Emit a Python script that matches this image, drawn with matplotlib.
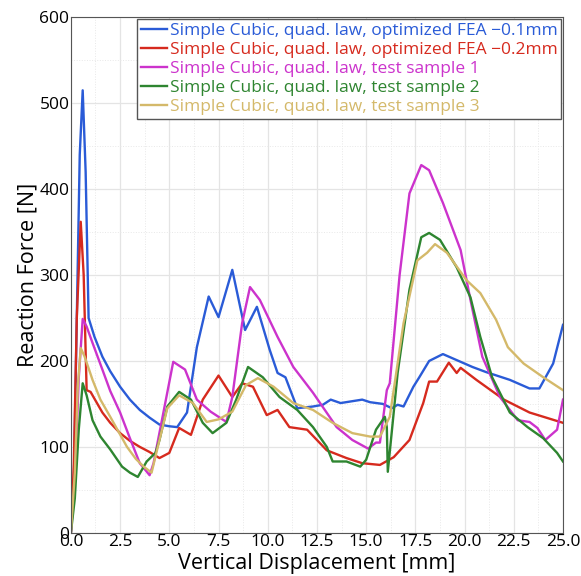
import matplotlib
matplotlib.use("Agg")
import matplotlib.pyplot as plt
from matplotlib.ticker import MultipleLocator

plt.rcParams['font.family'] = ['Open Sans', 'DejaVu Sans']

# displacement [mm] / reaction force [N]
fea1_x = [0.0, 0.15, 0.3, 0.45, 0.6, 0.75, 0.9, 1.2, 1.6, 2.0, 2.5, 3.0, 3.5, 4.0, 4.5, 5.0, 5.4, 5.9,
          6.4, 7.0, 7.5, 8.2, 8.85, 9.45, 10.1, 10.5, 10.9, 11.5, 12.3, 12.8, 13.2, 13.7, 14.8, 15.2,
          15.85, 16.3, 16.6, 16.9, 17.4, 17.7, 18.2, 18.9, 19.6, 20.4, 21.1, 22.3, 23.3, 23.8, 24.5, 25.0]
fea1_y = [0, 60, 250, 440, 515, 420, 250, 228, 205, 188, 170, 155, 143, 134, 126, 124, 123, 140,
          216, 275, 251, 306, 236, 263, 213, 186, 181, 145, 147, 149, 155, 151, 155, 152,
          150, 145, 149, 147, 170, 181, 200, 208, 201, 193, 187, 178, 168, 168, 197, 242]

fea2_x = [0.0, 0.15, 0.3, 0.5, 0.65, 0.8, 1.0, 1.6, 2.0, 2.5, 3.0, 3.5, 4.0, 4.5, 5.0, 5.5, 6.1, 6.7,
          7.5, 8.2, 8.7, 9.25, 9.95, 10.5, 11.1, 12.0, 13.0, 14.0, 14.8, 15.7, 16.4, 17.2, 17.9,
          18.2, 18.6, 19.2, 19.6, 19.8, 20.6, 22.0, 23.3, 25.0]
fea2_y = [0, 80, 250, 362, 300, 166, 164, 140, 128, 116, 107, 100, 94, 87, 93, 122, 114, 155,
          183, 158, 174, 170, 137, 143, 123, 120, 96, 87, 81, 79, 88, 108, 151,
          176, 176, 198, 186, 192, 178, 155, 140, 128]

s1_x = [0.0, 0.2, 0.4, 0.6, 0.8, 1.1, 1.6, 2.0, 2.5, 3.0, 3.5, 4.0, 4.2, 4.7, 5.2, 5.8, 6.4, 7.1,
        7.9, 8.2, 8.7, 9.1, 9.6, 10.5, 11.3, 12.3, 13.5, 14.3, 15.1, 15.5, 15.7, 16.05, 16.2, 16.7,
        17.2, 17.8, 18.2, 18.9, 19.8, 20.3, 20.9, 21.8, 22.7, 23.3, 23.7, 24.1, 24.7, 25.0]
s1_y = [0, 60, 180, 249, 240, 221, 190, 165, 140, 110, 81, 67, 81, 140, 199, 190, 155, 141,
        129, 158, 244, 286, 271, 228, 193, 163, 123, 108, 98, 105, 105, 166, 174, 300,
        395, 428, 422, 384, 329, 271, 205, 158, 131, 129, 122, 108, 120, 155]

s2_x = [0.0, 0.2, 0.4, 0.6, 0.8, 1.1, 1.5, 2.0, 2.6, 3.0, 3.4, 3.85, 4.3, 4.5, 4.9, 5.5, 6.1, 6.7,
        7.2, 7.9, 8.4, 9.0, 9.75, 10.6, 11.5, 12.3, 13.0, 13.3, 14.0, 14.7, 15.0, 15.5, 15.95,
        16.05, 16.1, 16.6, 17.2, 17.8, 18.2, 18.75, 19.6, 20.3, 20.8, 21.4, 22.3, 23.2, 24.0,
        24.7, 25.0]
s2_y = [0, 40, 120, 174, 160, 131, 112, 97, 77, 70, 65, 83, 93, 108, 147, 164, 155, 128,
        116, 128, 155, 193, 181, 158, 143, 123, 100, 83, 83, 77, 85, 120, 135,
        123, 71, 186, 283, 344, 349, 341, 309, 274, 228, 181, 140, 123, 110,
        93, 83]

s3_x = [0.0, 0.2, 0.35, 0.5, 0.7, 1.1, 1.5, 2.0, 2.85, 3.3, 3.7, 4.1, 4.5, 4.9, 5.5, 6.2, 6.9, 7.5,
        8.2, 8.9, 9.5, 10.3, 11.3, 12.3, 13.3, 14.3, 15.2, 15.7, 16.2, 16.9, 17.6, 18.1, 18.5,
        19.1, 20.1, 20.8, 21.6, 22.2, 23.0, 24.0, 25.0]
s3_y = [0, 70, 170, 215, 205, 178, 155, 135, 100, 86, 77, 70, 108, 145, 160, 151, 129, 132,
        141, 172, 180, 170, 151, 143, 128, 116, 112, 112, 135, 244, 317, 326, 336,
        326, 294, 279, 248, 216, 197, 181, 166]

labels = ['Simple Cubic, quad. law, optimized FEA \u22120.1mm',
          'Simple Cubic, quad. law, optimized FEA \u22120.2mm',
          'Simple Cubic, quad. law, test sample 1',
          'Simple Cubic, quad. law, test sample 2',
          'Simple Cubic, quad. law, test sample 3']
colors = ['#2a5bd7', '#d62a1e', '#cc33cc', '#2e8530', '#d4b96a']
series = [(fea1_x, fea1_y), (fea2_x, fea2_y), (s1_x, s1_y), (s2_x, s2_y), (s3_x, s3_y)]

fig = plt.figure(figsize=(5.81, 5.76), dpi=100)
ax = fig.add_axes([0.122, 0.075, 0.847, 0.895])

for (xs, ys), lab, col in zip(series, labels, colors):
    ax.plot(xs, ys, '-', color=col, lw=1.7, label=lab)

ax.set_xlim(0, 25)
ax.set_ylim(0, 600)
ax.xaxis.set_major_locator(MultipleLocator(2.5))
ax.xaxis.set_minor_locator(MultipleLocator(1.25))
ax.yaxis.set_major_locator(MultipleLocator(100))
ax.yaxis.set_minor_locator(MultipleLocator(50))
ax.grid(True, which='major', color='#e4e4e4', lw=0.9)
ax.grid(True, which='minor', color='#e8e8e8', lw=0.7, ls=':')
ax.set_axisbelow(True)
ax.tick_params(which='both', length=0, labelsize=12.5, pad=1)
for sp in ax.spines.values():
    sp.set_color('#555555')

ax.set_xlabel('Vertical Displacement [mm]', fontsize=15.5, labelpad=2)
ax.set_ylabel('Reaction Force [N]', fontsize=15.5, labelpad=1)

leg = ax.legend(loc='upper right', fontsize=12.5, handlelength=1.55, handletextpad=0.15,
                borderpad=0.2, labelspacing=0.17, fancybox=False, framealpha=1,
                borderaxespad=0.1)
leg.get_frame().set_edgecolor('#555555')
for txt, col in zip(leg.get_texts(), colors):
    txt.set_color(col)

fig.savefig('out.png', dpi=100)
